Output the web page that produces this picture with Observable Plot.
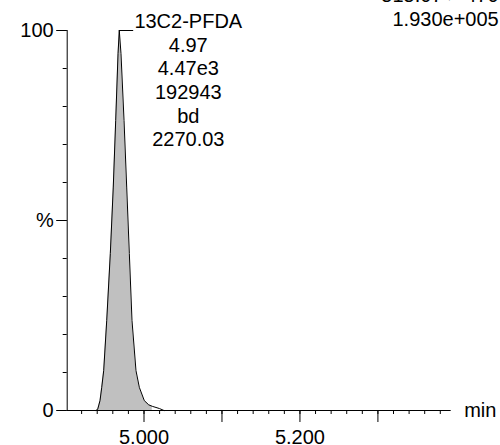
<!DOCTYPE html>
<html>
<head>
<meta charset="utf-8">
<script src="https://cdn.jsdelivr.net/npm/d3@7"></script>
<script src="https://cdn.jsdelivr.net/npm/@observablehq/plot@0.6"></script>
<style>
  html, body { margin: 0; padding: 0; background: #fff; }
  svg { display: block; }
</style>
</head>
<body>
<div id="chart"></div>
<script>
// Retention time (min) and relative intensity (%) of the chromatogram peak
const times = [4.9380, 4.9406, 4.9436, 4.9458, 4.9483, 4.9522, 4.9568, 4.9606, 4.9637, 4.9667, 4.9683,
               4.9705, 4.9744, 4.9778, 4.9812, 4.9846, 4.9897, 4.9940, 5.0004, 5.0060, 5.0106, 5.0154, 5.0200, 5.0256];
const intensities = [0, 0.3, 2.6, 6.1, 10.5, 23.7, 41.3, 58.8, 76.3, 93.9, 100,
                     93.9, 76.3, 58.8, 41.3, 23.7, 10.5, 6.1, 2.6, 1.5, 1.1, 0.8, 0.5, 0];
// integration window (filled region)
const fillStart = 4.9406, fillEnd = 5.0106;

// axes
const xDomain = [4.9015, 5.394];
const yDomain = [0, 100];
const xMinorTicks = [4.92, 4.94, 4.96, 4.98, 5.00, 5.02, 5.04, 5.06, 5.08, 5.10, 5.12, 5.14, 5.16, 5.18, 5.20,
                     5.22, 5.24, 5.26, 5.28, 5.30, 5.32, 5.34, 5.36, 5.38];
const xMajorTicks = [5.0, 5.1, 5.2, 5.3];
const xLabelTicks = [5.0, 5.2];
const xTickLabels = ["5.000", "5.200"];
const yMinorTicks = [0, 10, 20, 30, 40, 50, 60, 70, 80, 90, 100];
const yMajorTicks = [0, 50, 100];
const yTickLabels = ["0", "%", "100"];
const xUnit = "min";

// peak annotation
const apexTime = 4.9683, apexValue = 100;
const peakLabel = ["13C2-PFDA", "4.97", "4.47e3", "192943", "bd", "2270.03"];
const headerLines = ["515.07 > 470", "1.930e+005"];

const peak = times.map((t, i) => ({t, v: intensities[i]}));
const filled = peak.filter(d => d.t >= fillStart && d.t <= fillEnd);
const apex = [{t: apexTime, v: apexValue}];

const chart = Plot.plot({
  width: 500,
  height: 445,
  marginLeft: 66.7,
  marginRight: 49.3,
  marginTop: 30,
  marginBottom: 35,
  style: {fontFamily: "'Liberation Sans', Arial, Helvetica, sans-serif", fontSize: "20px", background: "#fff", color: "#000", overflow: "hidden"},
  x: {domain: xDomain, axis: null},
  y: {domain: yDomain, axis: null},
  marks: [
    Plot.areaY(filled, {x: "t", y: "v", fill: "#c0c0c0"}),
    Plot.lineY(peak, {x: "t", y: "v", stroke: "#000", strokeWidth: 1}),
    // axis lines
    Plot.ruleX([xDomain[0]], {y1: yDomain[0], y2: yDomain[1], stroke: "#000"}),
    Plot.ruleY([0], {x1: xDomain[0], x2: xDomain[1], stroke: "#000"}),
    // y ticks
    Plot.axisY(yMinorTicks, {anchor: "left", tickSize: 4, tickFormat: () => "", label: null}),
    Plot.axisY(yMajorTicks, {anchor: "left", tickSize: 10.5, tickPadding: 3, label: null,
      tickFormat: d => yTickLabels[yMajorTicks.indexOf(d)]}),
    // x ticks
    Plot.axisX(xMinorTicks, {anchor: "bottom", tickSize: 4, tickFormat: () => "", label: null}),
    Plot.axisX(xMajorTicks, {anchor: "bottom", tickSize: 12, tickFormat: () => "", label: null}),
    Plot.axisX(xLabelTicks, {anchor: "bottom", tickSize: 0, tickPadding: 19, label: null,
      tickFormat: d => xTickLabels[xLabelTicks.indexOf(d)]}),
    Plot.text([xUnit], {frameAnchor: "bottom-right", dx: 13, textAnchor: "start", lineAnchor: "middle", fontSize: 20}),
    // peak annotation
    Plot.ruleY(apex, {y: "v", x1: "t", x2: "t", insetRight: -14.4, stroke: "#000"}),
    Plot.text(apex, {x: "t", y: "v", text: () => peakLabel.join("\n"), dx: 69, dy: -19, textAnchor: "middle",
      lineAnchor: "top", lineHeight: 1.18, fontSize: 20}),
    // header (top right)
    Plot.text([headerLines.join("\n")], {frameAnchor: "top-right", dx: 47.5, dy: -4.5, textAnchor: "end",
      lineAnchor: "bottom", lineHeight: 1.2, fontSize: 20})
  ]
});
document.getElementById("chart").appendChild(chart);
</script>
</body>
</html>
